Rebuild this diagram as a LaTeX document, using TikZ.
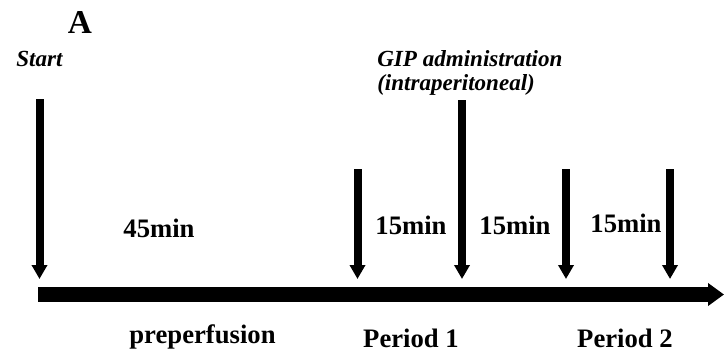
\documentclass[tikz,border=0pt]{standalone}
\usepackage{fontspec}
\setmainfont{Liberation Serif}
\usetikzlibrary{arrows.meta, positioning}
\begin{document}
\begin{tikzpicture}[x=0.75pt, y=-0.75pt,
    lbl/.style={inner sep=0pt, anchor=base, font=\fontsize{20}{24}\selectfont\bfseries},
    note/.style={inner sep=0pt, anchor=base west, font=\fontsize{17.3}{21}\selectfont\bfseries\itshape},
    tick/.style={line width=6pt, -{Triangle[length=10.5pt, width=11.25pt]}},
    timeline/.style={line width=11.25pt, -{Triangle[length=12pt, width=16.5pt]}}]
    \useasboundingbox (0,0) rectangle (724,357);
    \node (A) [inner sep=0pt, anchor=base, font=\fontsize{25}{30}\selectfont\bfseries] at (80,33) {A};%panel letter
    \node (start) [note] at (16,66) {Start};%start label
    \node (gip) [note] at (377,66) {GIP administration};%injection label
    \node (ip) [note] at (377,90) {(intraperitoneal)};
    \coordinate (t0) at (38,294.5);%time axis
    \coordinate (tend) at (724,294.5);
    \draw[timeline] (t0) -- (tend);%draws time axis
    \coordinate (s0) at (39.5,99);
    \coordinate (s1) at (39.5,279);
    \draw[tick] (s0) -- (s1);%start arrow
    \coordinate (g0) at (462,100);
    \coordinate (g1) at (462,279);
    \draw[tick] (g0) -- (g1);%GIP arrow
    \foreach \x/\n in {357.5/1, 566/3, 670/4}{
      \coordinate (p\n a) at (\x,169);
      \coordinate (p\n b) at (\x,279);
      \draw[tick] (p\n a) -- (p\n b);%sampling arrows
    }
    \node (m45) [lbl] at (159,237) {45min};
    \node (m15a) [lbl] at (411,234) {15min};
    \node (m15b) [lbl] at (515,234) {15min};
    \node (m15c) [lbl] at (626,232) {15min};
    \node (pre) [lbl] at (202.5,343) {preperfusion};
    \node (per1) [lbl] at (411,347) {Period 1};
    \node (per2) [lbl] at (625,347) {Period 2};
\end{tikzpicture}
\end{document}
